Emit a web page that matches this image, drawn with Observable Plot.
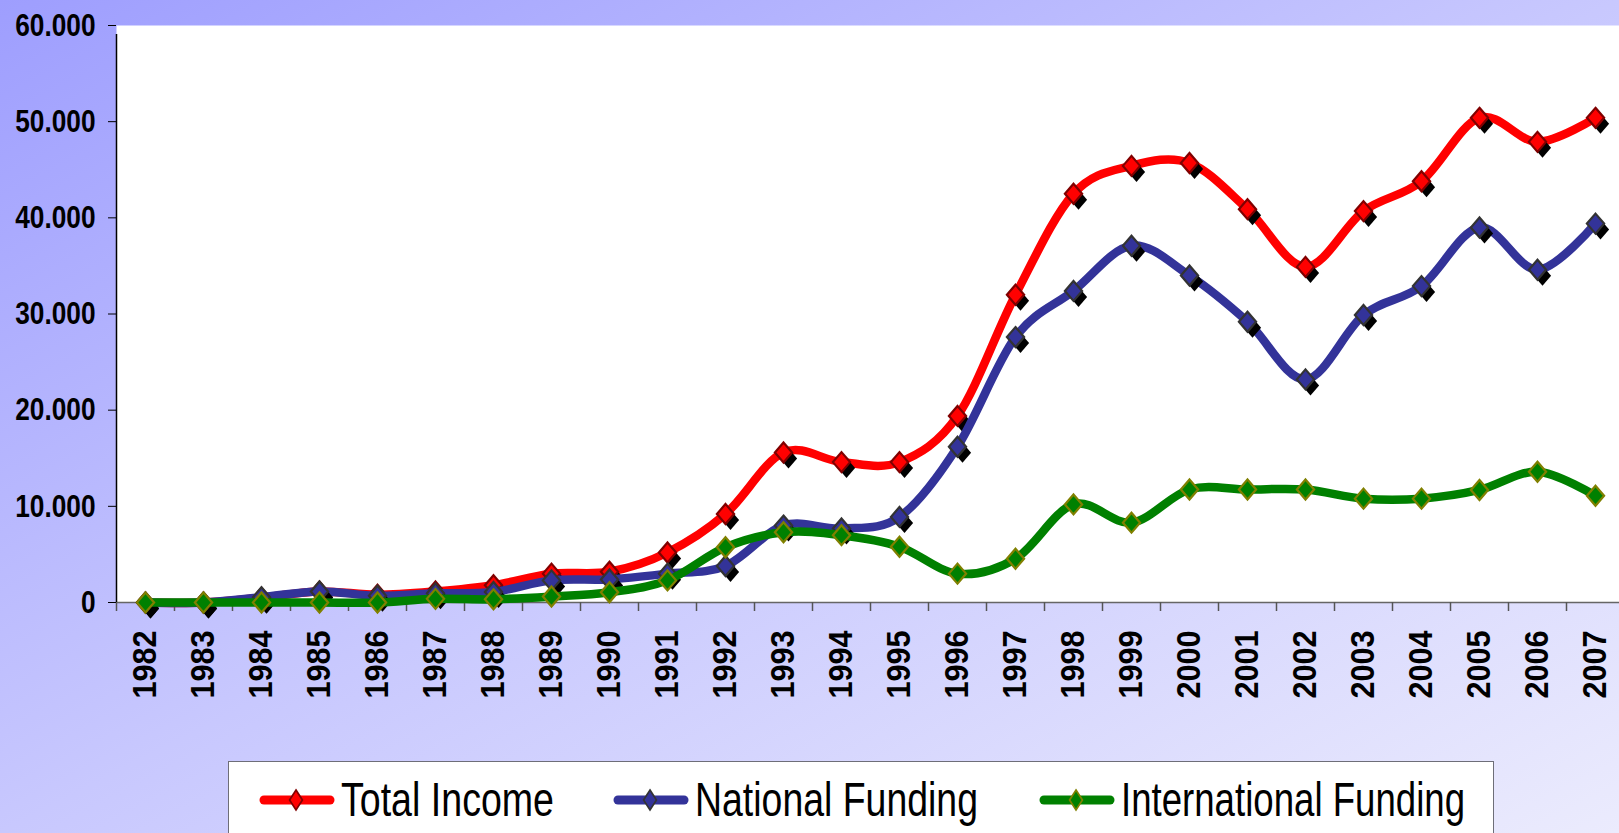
<!DOCTYPE html>
<html><head><meta charset="utf-8">
<script src="https://cdn.jsdelivr.net/npm/d3@7"></script>
<script src="https://cdn.jsdelivr.net/npm/@observablehq/plot@0.6"></script>
<style>
html,body{margin:0;padding:0;overflow:hidden;}
body{width:1619px;height:833px;background:linear-gradient(to bottom right,#9e9efe 0%,#c8c8fe 50%,#ebebfd 100%);font-family:"Liberation Sans",Arial,sans-serif;color:#000;}
#chart svg{display:block;overflow:visible;max-width:none;}
#legend{margin-left:228px;margin-top:11px;width:1266px;height:100px;background:#fff;border:1.5px solid #6e6e78;box-sizing:border-box;}
#legend svg{display:block;}
</style></head><body>
<div id="chart"></div>
<div id="legend"></div>
<script>
const years = [1982,1983,1984,1985,1986,1987,1988,1989,1990,1991,1992,1993,1994,1995,1996,1997,1998,1999,2000,2001,2002,2003,2004,2005,2006,2007];
const totalIncome = [0,0,500,1150,800,1150,1800,3000,3200,5200,9200,15600,14600,14600,19400,32000,42500,45400,45700,40900,34900,40700,43800,50400,47900,50400];
const nationalFunding = [0,0,550,1150,700,950,1100,2300,2400,3000,3800,8000,7700,8900,16200,27600,32400,37100,34000,29200,23200,29900,32900,39000,34600,39400];
const internationalFunding = [0,0,0,0,0,380,330,620,1070,2300,5750,7300,7000,5800,3000,4550,10200,8300,11750,11750,11750,10800,10800,11700,13600,11100];
const seriesNames = ["Total Income","National Funding","International Funding"];
const seriesColors = ["#ff0000","#333399","#008000"];
const markerStrokes = ["#800000","#333333","#808000"];
const markerShadow = [true,true,false];
const yTicks = [0,10000,20000,30000,40000,50000,60000];
const yTickLabels = ["0","10.000","20.000","30.000","40.000","50.000","60.000"];

const seriesValues = [totalIncome, nationalFunding, internationalFunding];
const seriesRows = seriesValues.map((vals, s) => years.map((year, i) => ({year, value: vals[i], series: seriesNames[s]})));
const boundaries = [years[0]-0.5, ...years.map(y => y+0.5)];

const diamond = {draw(ctx, size){ const r = Math.sqrt(size/Math.PI); const w = r*0.86;
  ctx.moveTo(0,-r); ctx.lineTo(w,0); ctx.lineTo(0,r); ctx.lineTo(-w,0); ctx.closePath(); }};

const marks = [
  Plot.frame({fill:"white", stroke:null}),
  Plot.ruleY([0], {stroke:"#666", strokeWidth:1.5}),
  Plot.axisX(boundaries, {tickSize:9, tickFormat:() => "", stroke:"#555", strokeWidth:1.5, label:null}),
  Plot.ruleX([boundaries[0]], {y1:0, y2:yTicks[yTicks.length-1], insetBottom:-9, stroke:"black", strokeWidth:1.5}),
  Plot.axisY(yTicks, {tickSize:8, tickPadding:13, tickFormat:d => yTickLabels[yTicks.indexOf(d)], fontSize:32, fontWeight:"bold", label:null, stroke:"black"}),
  Plot.axisX(years, {tickSize:0, tickPadding:28, tickRotate:-90, tickFormat:d => String(d), fontSize:34, fontWeight:"bold", label:null})
];
seriesRows.forEach((rows, s) => {
  marks.push(Plot.line(rows, {x:"year", y:"value", stroke:seriesColors[s], strokeWidth:8.5, curve:"cardinal", strokeLinejoin:"round", strokeLinecap:"round"}));
  if (markerShadow[s]) marks.push(Plot.dot(rows, {x:"year", y:"value", symbol:diamond, r:10, fill:"black", dx:5, dy:6}));
  marks.push(Plot.dot(rows, {x:"year", y:"value", symbol:diamond, r:10, fill:seriesColors[s], stroke:markerStrokes[s], strokeWidth:2.2}));
});

const chart = Plot.plot({
  width:1619, height:750,
  marginTop:25, marginBottom:148, marginLeft:116, marginRight:-5,
  x:{domain:[boundaries[0], boundaries[boundaries.length-1]]},
  y:{domain:[0, yTicks[yTicks.length-1]]},
  style:{background:"transparent", overflow:"visible", fontFamily:'"Liberation Sans", Arial, sans-serif', color:"black"},
  marks
});
document.getElementById("chart").appendChild(chart);

function squeeze(nodes, f){
  nodes.forEach(t => { const L = t.getComputedTextLength(); if (L > 0){ t.setAttribute("textLength", L*f); t.setAttribute("lengthAdjust","spacingAndGlyphs"); } });
}
squeeze(chart.querySelectorAll('g[aria-label="y-axis tick label"] text'), 0.82);
squeeze(chart.querySelectorAll('g[aria-label="x-axis tick label"] text'), 0.9);

// legend
const legendStart = [31, 385, 811];
const legendTextWidth = [213, 283, 344];
const lg = d3.select("#legend").append("svg").attr("width", 1263).attr("height", 97);
seriesNames.forEach((name, s) => {
  const x0 = legendStart[s];
  lg.append("line").attr("x1", x0+4).attr("x2", x0+70).attr("y1", 38).attr("y2", 38)
    .attr("stroke", seriesColors[s]).attr("stroke-width", 9).attr("stroke-linecap", "round");
  lg.append("path").attr("d", d3.symbol(diamond, Math.PI*10*10)())
    .attr("transform", `translate(${x0+36},38) scale(0.75,1)`)
    .attr("fill", seriesColors[s]).attr("stroke", markerStrokes[s]).attr("stroke-width", 2);
  lg.append("text").attr("x", x0+81).attr("y", 54).attr("font-size", 49)
    .attr("font-family", '"Liberation Sans", Arial, sans-serif')
    .attr("textLength", legendTextWidth[s]).attr("lengthAdjust", "spacingAndGlyphs")
    .text(name);
});
</script>
</body></html>
